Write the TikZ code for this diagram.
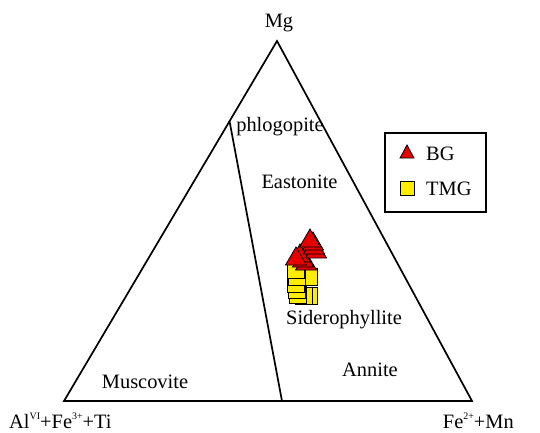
\documentclass[tikz,border=0pt]{standalone}
\usepackage{fontspec}
\setmainfont{Liberation Serif}
\newcommand\supx[1]{\raisebox{0.9ex}{\fontsize{10}{10}\selectfont #1}}
\begin{document}
\begin{tikzpicture}[x=1bp,y=-1bp,
  edge/.style={line width=1.7bp, line join=miter},
  lbl/.style={anchor=base, inner sep=0pt, font=\fontsize{20.5}{23}\selectfont},
  trimark/.style={fill=red!90!black, draw=black, line width=0.8bp},
  sqmark/.style={fill=yellow!95!orange, draw=black, line width=0.8bp}]
\useasboundingbox (0,0) rectangle (540,432);
% vertices
\coordinate (top) at (277,41);
\coordinate (bl) at (64,401);
\coordinate (br) at (472,401);
\coordinate (dtop) at (229.5,121);
\coordinate (dbot) at (282,401);
\draw[edge] (bl) -- (top) -- (br) -- cycle;
\draw[edge] (dtop) -- (dbot);
% labels
\node[lbl] (mg) at (279,27) {Mg};
\node[lbl, anchor=base west] (alfe) at (9,428) {Al\supx{VI}+Fe\supx{3+}+Ti};
\node[lbl, anchor=base east] (femn) at (514,428) {Fe\supx{2+}+Mn};
\node[lbl] (phl) at (280,131) {phlogopite};
\node[lbl] (eas) at (299.5,188) {Eastonite};
\node[lbl] (sid) at (344,324) {Siderophyllite};
\node[lbl] (ann) at (370,376) {Annite};
\node[lbl] (mus) at (145,388) {Muscovite};
% data: squares (centres)
\foreach \x/\y in {309/277,309/296,304/296,298/295,297/290,296/284,297/277,296/270}{
  \filldraw[sqmark] (\x-8.5,\y-8.5) rectangle (\x+8.5,\y+8.5);
}
% data: triangles (apex positions)
\foreach \x/\y in {306/252,303/249,300/244,296/247,316/240,314/236,313/232,310/229}{
  \filldraw[trimark] (\x,\y) -- ++(10.5,18) -- ++(-21,0) -- cycle;
}
% legend
\node[draw=black, line width=1.2bp, minimum width=101bp, minimum height=79bp, inner sep=0pt] (legend) at (435.5,172.5) {};
\filldraw[trimark] (407,145) -- ++(7,13) -- ++(-14,0) -- cycle;
\node[lbl, anchor=base west] (bg) at (426,160) {BG};
\filldraw[sqmark] (400,181) rectangle (414,195);
\node[lbl, anchor=base west] (tmg) at (426,195) {TMG};
\end{tikzpicture}
\end{document}
